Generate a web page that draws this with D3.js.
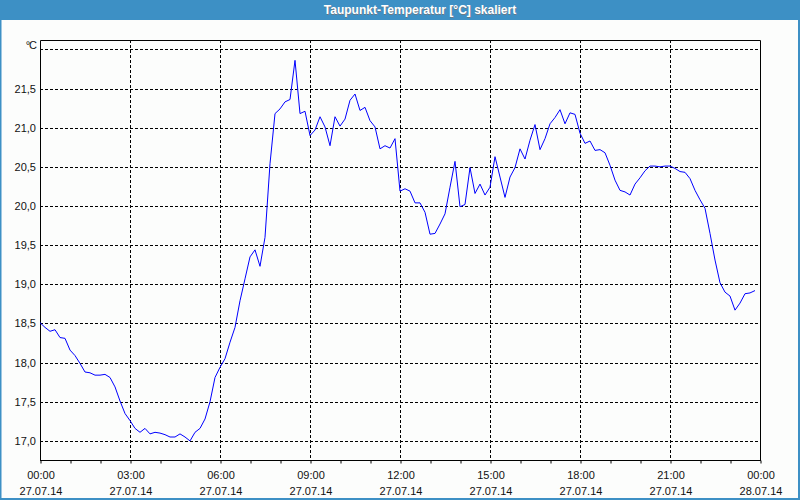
<!DOCTYPE html>
<html>
  <head>
    <meta charset="utf-8">
    <title>Taupunkt-Temperatur</title>
    <script src="https://d3js.org/d3.v7.min.js"></script>
    <style>
      body { margin: 0; background: #fff; }
    </style>
  </head>
  <body>
    <script>
      var width = 800;
      var height = 500;

      // Messwerte alle 10 Minuten ab 27.07.14 00:00
      var startTime = new Date(2014, 6, 27, 0, 0);
      var endTime = new Date(2014, 6, 28, 0, 0);
      var stepMinutes = 10;
      var values = [
        18.51, 18.45, 18.40, 18.42, 18.32, 18.31, 18.16, 18.09, 17.99, 17.88, 17.87, 17.84,
        17.84, 17.85, 17.81, 17.69, 17.51, 17.35, 17.26, 17.16, 17.11, 17.16, 17.09, 17.11,
        17.10, 17.08, 17.05, 17.05, 17.09, 17.05, 17.00, 17.11, 17.16, 17.28, 17.50, 17.81,
        17.94, 18.05, 18.26, 18.45, 18.79, 19.07, 19.35, 19.44, 19.23, 19.60, 20.54, 21.18,
        21.24, 21.33, 21.36, 21.86, 21.18, 21.21, 20.90, 20.97, 21.14, 21.01, 20.77, 21.14,
        21.02, 21.11, 21.35, 21.43, 21.22, 21.26, 21.09, 21.01, 20.73, 20.77, 20.74, 20.86,
        20.19, 20.22, 20.19, 20.04, 20.04, 19.92, 19.64, 19.65, 19.77, 19.90, 20.24, 20.57,
        19.99, 20.02, 20.49, 20.16, 20.28, 20.14, 20.24, 20.63, 20.37, 20.11, 20.37, 20.49,
        20.73, 20.60, 20.84, 21.04, 20.72, 20.86, 21.05, 21.13, 21.23, 21.05, 21.19, 21.17,
        20.93, 20.80, 20.83, 20.71, 20.72, 20.68, 20.52, 20.33, 20.20, 20.18, 20.14, 20.28,
        20.36, 20.45, 20.51, 20.51, 20.50, 20.51, 20.51, 20.48, 20.44, 20.43, 20.35, 20.20,
        20.08, 19.97, 19.65, 19.31, 19.02, 18.90, 18.85, 18.67, 18.76, 18.88, 18.89, 18.92
      ];
      var yTicks = [17.0, 17.5, 18.0, 18.5, 19.0, 19.5, 20.0, 20.5, 21.0, 21.5, 22.0];
      var yMin = 16.75;
      var yMax = 22.12;
      var unitLabel = "°C";
      var title = "Taupunkt-Temperatur [°C] skaliert";

      var data = values.map(function (v, i) {
        return { t: new Date(startTime.getTime() + i * stepMinutes * 60000), v: v };
      });

      var margin = { left: 40, right: 40, top: 40, bottom: 40 };
      var plotRight = width - margin.right;
      var plotBottom = height - margin.bottom + 0.5;

      var svg = d3.select("body").append("svg")
        .attr("width", width).attr("height", height)
        .style("display", "block");

      // Rahmen und Titelleiste
      svg.append("rect").attr("width", width).attr("height", height).attr("fill", "#fcfdfc");
      svg.append("rect")
        .attr("x", 0.5).attr("y", 0.5).attr("width", width - 1.5).attr("height", height - 1.5)
        .attr("fill", "none").attr("stroke", "#3d90c5").attr("stroke-width", 2);
      svg.append("rect").attr("x", 0).attr("y", 0).attr("width", width).attr("height", 20)
        .attr("fill", "#3d90c5");
      svg.append("text")
        .attr("x", width / 2 + 20.5).attr("y", 15)
        .attr("text-anchor", "middle")
        .attr("fill", "#6d7a86")
        .style("font", "bold 12px 'Liberation Sans', Arial, sans-serif")
        .text(title);
      svg.append("text")
        .attr("x", width / 2 + 20).attr("y", 14)
        .attr("text-anchor", "middle")
        .attr("fill", "#ffffff")
        .style("font", "bold 12px 'Liberation Sans', Arial, sans-serif")
        .text(title);

      var xScale = d3.scaleTime()
        .domain([startTime, endTime])
        .range([margin.left, plotRight]);

      var yScale = d3.scaleLinear()
        .domain([yMin, yMax])
        .range([plotBottom, margin.top]);

      var font = "11px 'Liberation Sans', Arial, sans-serif";

      // Gitterlinien
      var grid = svg.append("g")
        .attr("stroke", "#000").attr("stroke-width", 1).attr("stroke-dasharray", "3,2");
      grid.selectAll("line.h")
        .data(yTicks)
        .enter()
        .append("line")
        .attr("x1", margin.left).attr("x2", plotRight)
        .attr("y1", (d) => Math.round(yScale(d)) + 0.5)
        .attr("y2", (d) => Math.round(yScale(d)) + 0.5);
      grid.selectAll("line.v")
        .data(xScale.ticks(d3.timeHour.every(3)).slice(1, -1))
        .enter()
        .append("line")
        .attr("x1", (d) => Math.round(xScale(d)) + 0.5)
        .attr("x2", (d) => Math.round(xScale(d)) + 0.5)
        .attr("y1", margin.top).attr("y2", plotBottom);

      // Rahmen Diagramm
      svg.append("path")
        .attr("d", "M" + (margin.left + 0.5) + "," + plotBottom + "V" + (margin.top + 0.5) +
          "H" + (plotRight + 0.5) + "V" + plotBottom)
        .attr("fill", "none").attr("stroke", "#000");

      // x-Achse
      var axisx = d3.axisBottom(xScale)
        .ticks(d3.timeHour.every(1))
        .tickSize(3)
        .tickFormat("");
      var gx = svg.append("g")
        .attr("transform", "translate(0.5," + plotBottom + ")")
        .call(axisx);
      gx.select(".domain").attr("d", "M" + (margin.left - 0.5) + ",0H" + (plotRight + 0.5));

      var labels = svg.append("g").style("font", font).attr("fill", "#111");
      var labelTimes = xScale.ticks(d3.timeHour.every(3));
      labels.selectAll("text.time")
        .data(labelTimes)
        .enter()
        .append("text")
        .attr("x", (d) => xScale(d) + 1)
        .attr("y", 479)
        .attr("text-anchor", "middle")
        .text(d3.timeFormat("%H:%M"));
      labels.selectAll("text.date")
        .data(labelTimes)
        .enter()
        .append("text")
        .attr("x", (d) => xScale(d) + 1)
        .attr("y", 495)
        .attr("text-anchor", "middle")
        .text(d3.timeFormat("%d.%m.%y"));

      // y-Achse Beschriftung (oberster Wert durch Einheit ersetzt)
      var fmt = (d) => d.toFixed(1).replace(".", ",");
      labels.selectAll("text.y")
        .data(yTicks.slice(0, -1))
        .enter()
        .append("text")
        .attr("x", 36)
        .attr("y", (d) => yScale(d) + 4)
        .attr("text-anchor", "end")
        .text(fmt);
      labels.append("text")
        .attr("x", 36)
        .attr("y", 49)
        .attr("text-anchor", "end")
        .attr("letter-spacing", "-1px")
        .text(unitLabel);

      // Kurve
      var line = d3.line()
        .x((d) => xScale(d.t))
        .y((d) => yScale(d.v));
      svg.append("path")
        .datum(data)
        .attr("d", line)
        .attr("fill", "none")
        .attr("stroke", "#0000ff")
        .attr("stroke-width", 1);
    </script>
  </body>
</html>
